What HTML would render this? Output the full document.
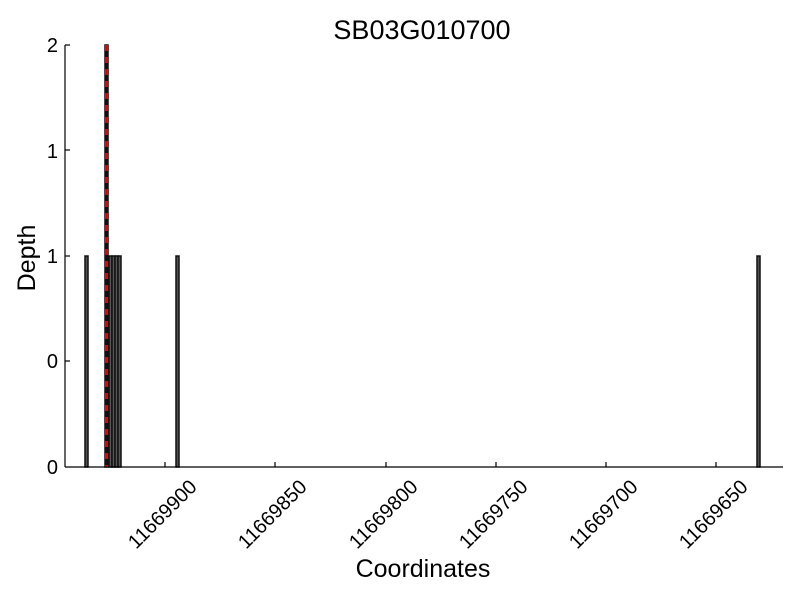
<!DOCTYPE html><html><head><style>body{margin:0;background:#fff}</style></head><body>
<svg width="800" height="600" xmlns="http://www.w3.org/2000/svg" font-family="Liberation Sans, sans-serif">
<rect width="800" height="600" fill="#fff"/>
<text x="422" y="39" font-size="27" text-anchor="middle">SB03G010700</text>
<g fill="#555" stroke="#111" stroke-width="1.5">
<rect x="85" y="256" width="3" height="211"/>
<rect x="105" y="45" width="3" height="422"/>
<rect x="109" y="256" width="3" height="211"/>
<rect x="112" y="256" width="3" height="211"/>
<rect x="115" y="256" width="3" height="211"/>
<rect x="118" y="256" width="3" height="211"/>
<rect x="176" y="256" width="3" height="211"/>
<rect x="757" y="256" width="3" height="211"/>
</g>
<line x1="106.5" y1="45" x2="106.5" y2="467" stroke="#111" stroke-width="3"/>
<line x1="106.5" y1="45" x2="106.5" y2="467" stroke="#e00" stroke-width="3" stroke-dasharray="6,6"/>
<g stroke="#000" stroke-width="1.2">
<line x1="65" y1="45" x2="65" y2="467"/>
<line x1="65" y1="467" x2="783" y2="467"/>
<line x1="65" y1="45" x2="70" y2="45"/><line x1="65" y1="150" x2="70" y2="150"/><line x1="65" y1="256" x2="70" y2="256"/><line x1="65" y1="361" x2="70" y2="361"/>
<line x1="165" y1="467" x2="165" y2="462"/><line x1="275" y1="467" x2="275" y2="462"/><line x1="386" y1="467" x2="386" y2="462"/><line x1="496" y1="467" x2="496" y2="462"/><line x1="606" y1="467" x2="606" y2="462"/><line x1="716" y1="467" x2="716" y2="462"/>
</g>
<g font-size="20" text-anchor="end">
<text x="58" y="52">2</text><text x="58" y="158">1</text><text x="58" y="263">1</text><text x="58" y="368">0</text><text x="58" y="474">0</text>
</g>
<g font-size="20" text-anchor="end">
<text transform="translate(198,488) rotate(-45)">11669900</text>
<text transform="translate(308,488) rotate(-45)">11669850</text>
<text transform="translate(419,488) rotate(-45)">11669800</text>
<text transform="translate(529,488) rotate(-45)">11669750</text>
<text transform="translate(639,488) rotate(-45)">11669700</text>
<text transform="translate(749,488) rotate(-45)">11669650</text>
</g>
<text x="423" y="577" font-size="25" text-anchor="middle">Coordinates</text>
<text transform="translate(35,258) rotate(-90)" font-size="25" text-anchor="middle">Depth</text>
</svg>
</body></html>
